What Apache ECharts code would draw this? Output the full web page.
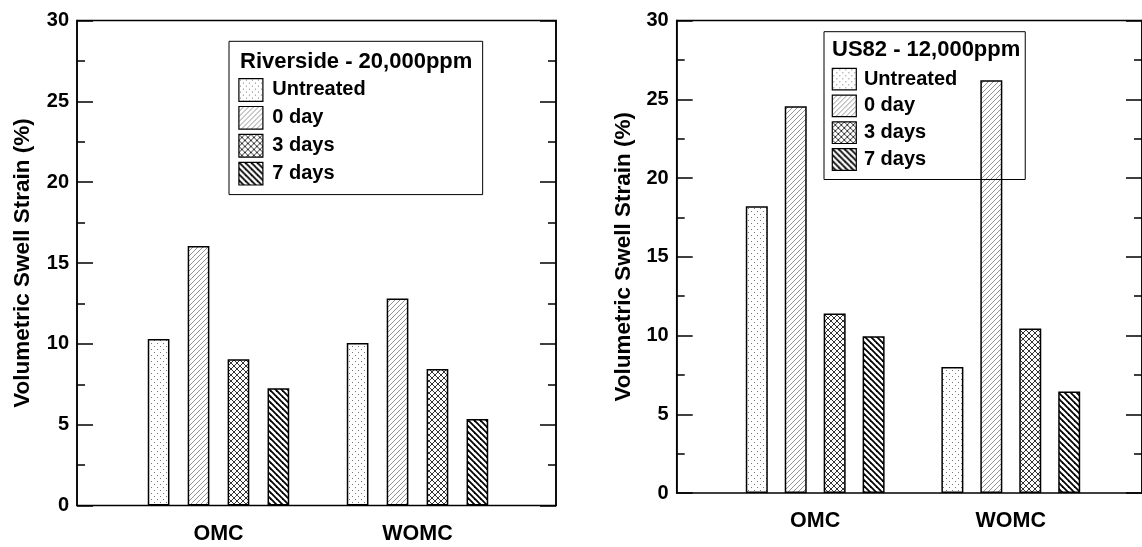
<!DOCTYPE html>
<html>
<head>
<meta charset="utf-8">
<script src="https://cdn.jsdelivr.net/npm/echarts@6/dist/echarts.min.js"></script>
<style>
html,body{margin:0;padding:0;background:#fff;}
#main{width:1142px;height:547px;}
</style>
</head>
<body>
<div id="main"></div>
<script>
// ---- data ----
const categories = ['OMC', 'WOMC'];
const seriesNames = ['Untreated', '0 day', '3 days', '7 days'];
const riversideUntreated = [10.3, 10.05];
const riverside0day = [16.05, 12.8];
const riverside3days = [9.05, 8.45];
const riverside7days = [7.25, 5.35];
const us82Untreated = [18.2, 8.0];
const us820day = [24.55, 26.2];
const us823days = [11.4, 10.45];
const us827days = [9.95, 6.45];
const leftTitle = 'Riverside - 20,000ppm';
const rightTitle = 'US82 - 12,000ppm';
const yAxisTitle = 'Volumetric Swell Strain (%)';

// ---- hatch patterns ----
function makePattern(kind) {
  const c = document.createElement('canvas');
  let s = 6;
  if (kind === 'fwd') s = 5;
  c.width = s; c.height = s;
  const g = c.getContext('2d');
  g.fillStyle = '#fff';
  g.fillRect(0, 0, s, s);
  function line(x1, y1, x2, y2) { g.beginPath(); g.moveTo(x1, y1); g.lineTo(x2, y2); g.stroke(); }
  if (kind === 'dots') {
    g.fillStyle = '#777';
    g.fillRect(1, 1, 1, 1);
    g.fillRect(4, 4, 1, 1);
  } else if (kind === 'fwd') {
    g.strokeStyle = '#777'; g.lineWidth = 0.8;
    line(0, s, s, 0); line(-1, 1, 1, -1); line(s - 1, s + 1, s + 1, s - 1);
  } else if (kind === 'cross') {
    g.strokeStyle = '#333'; g.lineWidth = 1;
    line(0, s, s, 0); line(-1, 1, 1, -1); line(s - 1, s + 1, s + 1, s - 1);
    line(0, 0, s, s); line(-1, s - 1, 1, s + 1); line(s - 1, -1, s + 1, 1);
  } else if (kind === 'back') {
    g.strokeStyle = '#000'; g.lineWidth = 1.8;
    line(0, 0, s, s); line(-1, s - 1, 1, s + 1); line(s - 1, -1, s + 1, 1);
  }
  return { image: c, repeat: 'repeat' };
}
const patterns = [makePattern('dots'), makePattern('fwd'), makePattern('cross'), makePattern('back')];

const FONT = "'Liberation Sans', Arial, sans-serif";
const chart = echarts.init(document.getElementById('main'), null, { renderer: 'canvas' });

function frameY(gridIndex, pos, withLabels, nameGap) {
  return {
    gridIndex: gridIndex, type: 'value', position: pos, min: 0, max: 30, interval: 5,
    name: withLabels ? yAxisTitle : '',
    nameLocation: 'middle', nameGap: nameGap, nameRotate: 90,
    nameTextStyle: { fontFamily: FONT, fontWeight: 'bold', fontSize: 22.5, color: '#000' },
    axisLine: { show: true, lineStyle: { color: '#000', width: 1.5 } },
    axisTick: { show: true, inside: true, length: 16, lineStyle: { color: '#000', width: 1.5 } },
    minorTick: { show: true, splitNumber: 2, length: 8, lineStyle: { color: '#000', width: 1.5 } },
    axisLabel: { show: withLabels, margin: 8, fontFamily: FONT, fontWeight: 'bold', fontSize: 20, color: '#000' },
    splitLine: { show: false }, minorSplitLine: { show: false }
  };
}

function barSeries(xi, yi, arrays, barWidth, barGap) {
  return arrays.map((arr, i) => ({
    type: 'bar', name: seriesNames[i], xAxisIndex: xi, yAxisIndex: yi,
    data: arr, barWidth: barWidth, barGap: barGap,
    itemStyle: { color: patterns[i], borderColor: '#000', borderWidth: 1.5 },
    emphasis: { disabled: true }
  }));
}

function legendOf(left, top, itemH, padding, textPad) {
  return {
    orient: 'vertical', left: left, top: top, data: seriesNames, icon: 'rect',
    itemWidth: 24, itemHeight: itemH, itemGap: 4, padding: padding,
    borderColor: '#000', borderWidth: 1, selectedMode: false,
    itemStyle: { borderColor: '#000', borderWidth: 1.2 },
    textStyle: { fontFamily: FONT, fontWeight: 'bold', fontSize: 20, color: '#000', padding: [0, 0, 0, textPad] }
  };
}

const option = {
  animation: false,
  backgroundColor: '#fff',
  title: [
    { text: leftTitle, left: 240, top: 50.5, padding: 0, textStyle: { fontFamily: FONT, fontWeight: 'bold', fontSize: 22, color: '#000' } },
    { text: rightTitle, left: 832, top: 39, padding: 0, textStyle: { fontFamily: FONT, fontWeight: 'bold', fontSize: 22, color: '#000' } }
  ],
  legend: [
    legendOf(229, 41.3, 22.7, [36.7, 117, 9, 9.3], 4.4),
    legendOf(824, 31.7, 21.6, [36, 68, 8.6, 7.7], 2.6)
  ],
  grid: [
    { left: 77, right: 1142 - 556, top: 20.5, bottom: 547 - 505.5, show: true, borderColor: '#000', borderWidth: 1.5, containLabel: false },
    { left: 119, right: 1142 - 517, top: 20.5, bottom: 547 - 505.5, containLabel: false },
    { left: 676.7, right: -4, top: 20.5, bottom: 547 - 493, show: true, borderColor: '#000', borderWidth: 1.5, containLabel: false },
    { left: 717.4, right: 33.4, top: 20.5, bottom: 547 - 493, containLabel: false }
  ],
  xAxis: [
    { gridIndex: 0, type: 'value', min: 0, max: 1, show: false },
    { gridIndex: 1, type: 'category', data: categories,
      axisLine: { show: false }, axisTick: { show: false },
      axisLabel: { margin: 18, fontFamily: FONT, fontWeight: 'bold', fontSize: 21.5, color: '#000' } },
    { gridIndex: 2, type: 'value', min: 0, max: 1, show: false },
    { gridIndex: 3, type: 'category', data: categories,
      axisLine: { show: false }, axisTick: { show: false },
      axisLabel: { margin: 17.5, fontFamily: FONT, fontWeight: 'bold', fontSize: 21.5, color: '#000' } }
  ],
  yAxis: [
    frameY(0, 'left', true, 43),
    frameY(0, 'right', false, 0),
    { gridIndex: 1, type: 'value', min: 0, max: 30, show: false },
    frameY(2, 'left', true, 41.5),
    frameY(2, 'right', false, 0),
    { gridIndex: 3, type: 'value', min: 0, max: 30, show: false }
  ],
  series: [
    ...barSeries(1, 2, [riversideUntreated, riverside0day, riverside3days, riverside7days], 21.7, '84%'),
    ...barSeries(3, 5, [us82Untreated, us820day, us823days, us827days], 22, '77%')
  ]
};
chart.setOption(option);
</script>
</body>
</html>
